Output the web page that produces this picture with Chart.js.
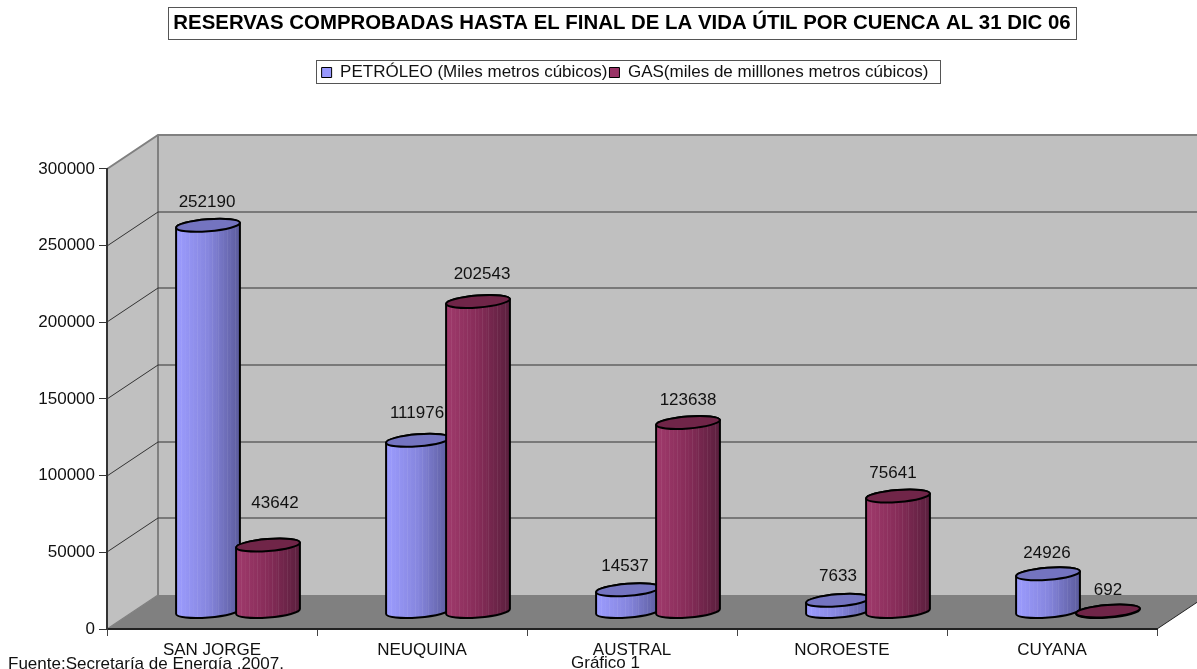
<!DOCTYPE html>
<html lang="es">
<head>
<meta charset="utf-8">
<style>html,body{margin:0;padding:0;background:#fff;overflow:hidden}canvas{display:block}</style>
<script src="https://cdn.jsdelivr.net/npm/chart.js@4"></script>
</head>
<body>
<canvas id="c" width="1197" height="669"></canvas>
<script>
const categories = ["SAN JORGE", "NEUQUINA", "AUSTRAL", "NOROESTE", "CUYANA"];
const petroleo = [252190, 111976, 14537, 7633, 24926];
const gas = [43642, 202543, 123638, 75641, 692];
const titleText = "RESERVAS COMPROBADAS HASTA EL FINAL DE LA VIDA ÚTIL POR CUENCA AL 31 DIC 06";
const seriesNames = ["PETRÓLEO (Miles metros cúbicos)", "GAS(miles de milllones metros cúbicos)"];
const footLeft = "Fuente:Secretaría de Energía .2007.";
const footCenter = "Gráfico 1";

const FONT = "'Liberation Sans', Arial, sans-serif";
const INK = "#111";
const DEPTH = {x: 51, y: -34};          // front plane to back wall
const MID = {x: 26, y: -17};            // front plane to cylinder axis
const STYLE = [
  {stops: ["#9c9cff", "#8686de", "#5b5b9c"], cap: "#7474c0"},
  {stops: ["#a03a6c", "#862c58", "#5a1f3d"], cap: "#702548"}
];
const STRIPES = [.08,.14,.2,.27,.33,.38,.45,.5,.56,.62,.66,.73,.79,.85,.92];
const LABEL_NUDGE = [
  [[-1,-23],[7,-42]],
  [[-1,-27],[4,-27]],
  [[-3,-23],[0,-22]],
  [[0,-24],[-5,-23]],
  [[-1,-20],[0,-21]]
];

const scene = {
  id: "scene",
  afterLayout(chart) {
    const t = chart.titleBlock, l = chart.legend;
    t.left = 168; t.right = 1076; t.width = 908;
    l.left = 313; l.right = 937; l.width = 624; l.top = 62; l.bottom = 85;
  },
  beforeDraw(chart) {
    const c = chart.ctx, a = chart.chartArea, y = chart.scales.y;
    const L = a.left, R = a.right, T = a.top, B = y.getPixelForValue(0);
    const bx = L + DEPTH.x, bt = T + DEPTH.y, bb = B + DEPTH.y, br = R + DEPTH.x;
    c.save();
    // back wall
    c.fillStyle = "#c0c0c0";
    c.fillRect(bx, bt, br - bx, bb - bt);
    // left wall
    c.beginPath(); c.moveTo(L, T); c.lineTo(bx, bt); c.lineTo(bx, bb); c.lineTo(L, B); c.closePath(); c.fill();
    // floor
    c.fillStyle = "#808080";
    c.beginPath(); c.moveTo(L, B); c.lineTo(bx, bb); c.lineTo(br, bb); c.lineTo(R, B); c.closePath(); c.fill();
    // floor right edge
    c.strokeStyle = "#222"; c.lineWidth = 1;
    c.beginPath(); c.moveTo(R, B); c.lineTo(br, bb); c.stroke();
    // wall outlines
    c.strokeStyle = "#808080"; c.lineWidth = 2;
    c.beginPath(); c.moveTo(L, T); c.lineTo(bx, bt); c.lineTo(br, bt); c.moveTo(bx, bt); c.lineTo(bx, bb); c.stroke();
    c.lineWidth = 1.2;
    c.beginPath(); c.moveTo(L, B); c.lineTo(bx, bb); c.stroke();
    // gridlines
    c.strokeStyle = "#333"; c.lineWidth = 1;
    y.ticks.forEach(t => {
      if (t.value === 0 || t.value === y.max) return;
      const p = Math.round(y.getPixelForValue(t.value));
      c.beginPath(); c.moveTo(L, p); c.lineTo(bx, p + DEPTH.y); c.lineTo(br, p + DEPTH.y); c.stroke();
    });
    // title box and legend box
    c.strokeStyle = "#555"; c.lineWidth = 1;
    c.strokeRect(168.5, 7.5, 908, 32);
    c.strokeRect(316.5, 60.5, 624, 23);
    c.restore();
  },
  beforeDatasetDraw() { return false; },
  beforeDatasetsDraw(chart) {
    const c = chart.ctx;
    c.save();
    const rot = -4.5 * Math.PI / 180;
    for (let d = 0; d < chart.data.datasets.length; d++) {
      const st = STYLE[d];
      chart.getDatasetMeta(d).data.forEach(el => {
        const p = el.getProps(["x", "y", "base", "width"]);
        const cx = p.x + MID.x, yt = p.y + MID.y, yb = p.base + MID.y;
        const A = p.width / 2, Bb = 6;
        const g = c.createLinearGradient(cx - A, 0, cx + A, 0);
        g.addColorStop(0, st.stops[0]); g.addColorStop(.5, st.stops[1]); g.addColorStop(1, st.stops[2]);
        const body = () => {
          c.beginPath();
          c.ellipse(cx, yb, A, Bb, rot, 0, Math.PI);
          c.ellipse(cx, yt, A, Bb, rot, Math.PI, 2 * Math.PI);
          c.closePath();
        };
        body(); c.fillStyle = g; c.fill();
        c.save(); body(); c.clip();
        c.lineWidth = 1;
        STRIPES.forEach((f, i) => {
          c.strokeStyle = "rgba(255,255,255," + (i % 2 ? .03 : .07) + ")";
          const sx = Math.round(cx - A + f * 2 * A) + .5;
          c.beginPath(); c.moveTo(sx, yt); c.lineTo(sx, yb + 8); c.stroke();
        });
        c.restore();
        c.strokeStyle = "#000"; c.lineWidth = 2;
        body(); c.stroke();
        c.beginPath(); c.ellipse(cx, yt, A, Bb, rot, 0, 2 * Math.PI);
        c.fillStyle = st.cap; c.fill(); c.stroke();
      });
    }
    // value labels
    c.fillStyle = INK; c.font = "17px " + FONT;
    c.textAlign = "center"; c.textBaseline = "middle";
    for (let d = 0; d < chart.data.datasets.length; d++) {
      const vals = chart.data.datasets[d].data;
      chart.getDatasetMeta(d).data.forEach((el, i) => {
        const n = LABEL_NUDGE[i][d];
        c.fillText(String(vals[i]), el.x + MID.x + n[0], el.y + MID.y + n[1]);
      });
    }
    c.restore();
  },
  afterDraw(chart) {
    const c = chart.ctx;
    c.save();
    c.fillStyle = INK; c.font = "17px " + FONT;
    c.textAlign = "left"; c.textBaseline = "middle";
    c.fillText(footLeft, 8, 664);
    c.fillText(footCenter, 571, 663);
    c.restore();
  }
};

new Chart(document.getElementById("c"), {
  type: "bar",
  data: {
    labels: categories,
    datasets: [
      {label: seriesNames[0], data: petroleo, backgroundColor: "#9999ff", borderColor: "#000", borderWidth: 1,
       categoryPercentage: 0.5714, barPercentage: 1.0667},
      {label: seriesNames[1], data: gas, backgroundColor: "#993366", borderColor: "#000", borderWidth: 1,
       categoryPercentage: 0.5714, barPercentage: 1.0667}
    ]
  },
  plugins: [scene],
  options: {
    responsive: false,
    animation: false,
    layout: {padding: {left: 0, right: 40, top: 0, bottom: 0}},
    plugins: {
      tooltip: {enabled: false},
      title: {display: true, text: titleText, color: "#000",
              font: {family: FONT, size: 20.4, weight: "bold"},
              padding: {top: 11, bottom: 104.5}},
      legend: {display: true, position: "top",
               labels: {color: INK, font: {family: FONT, size: 17}, boxWidth: 10, boxHeight: 10, padding: 2}}
    },
    scales: {
      x: {
        afterFit(s) { s.height = 40; },
        border: {color: "#222", width: 2},
        grid: {display: true, drawOnChartArea: false, drawTicks: true, tickLength: 7, color: "#444"},
        ticks: {color: INK, font: {family: FONT, size: 17}, padding: 4, maxRotation: 0}
      },
      y: {
        min: 0, max: 300000,
        afterFit(s) { s.width = 107; },
        border: {color: "#333", width: 2},
        grid: {display: true, drawOnChartArea: false, drawTicks: true, tickLength: 8, color: "#333"},
        ticks: {color: INK, font: {family: FONT, size: 17}, padding: 4, stepSize: 50000, callback: v => String(v)}
      }
    }
  }
});
</script>
</body>
</html>
